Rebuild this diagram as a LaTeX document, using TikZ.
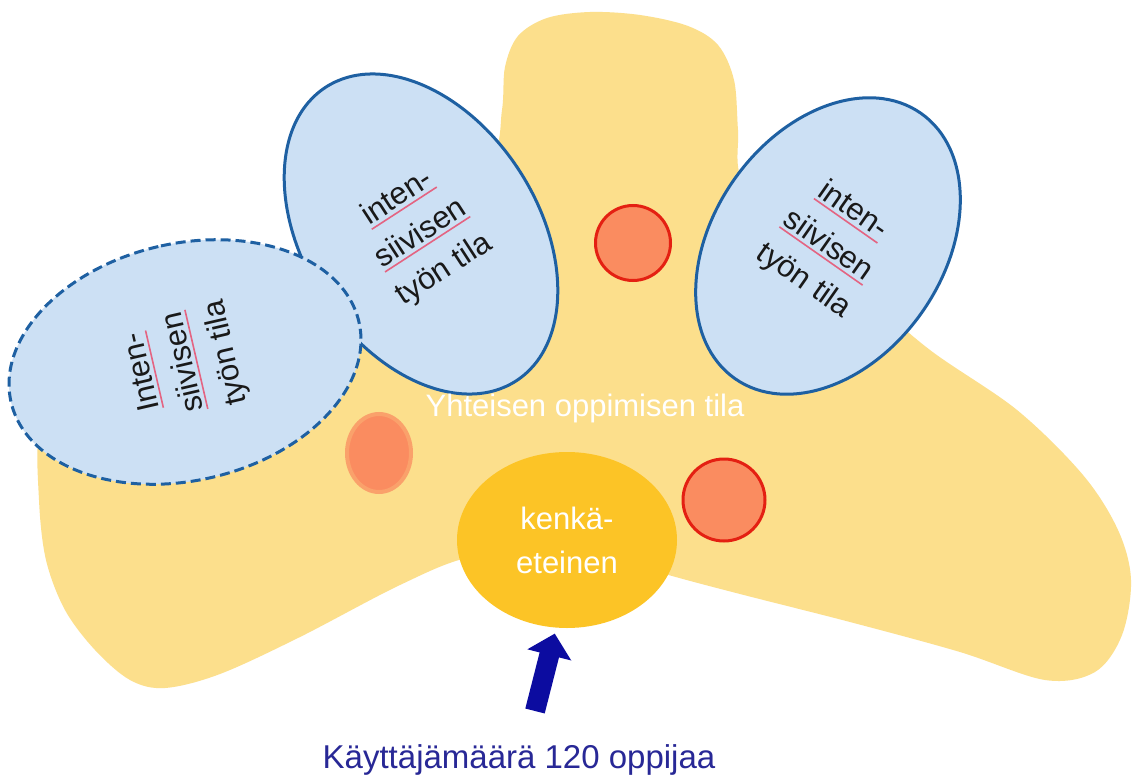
\documentclass[tikz,border=0pt]{standalone}
\usepackage{fontspec}
\setmainfont{Liberation Sans}
\usetikzlibrary{shapes.geometric,arrows.meta}

\definecolor{tilayellow}{RGB}{252,223,140}
\definecolor{kenkagold}{RGB}{252,196,38}
\definecolor{tilablue}{RGB}{204,224,244}
\definecolor{tilaedge}{RGB}{30,96,162}
\definecolor{hotcoral}{RGB}{250,140,96}
\definecolor{hotred}{RGB}{228,32,18}
\definecolor{userblue}{RGB}{12,12,160}
\definecolor{labelblue}{RGB}{40,40,150}
\definecolor{spellpink}{RGB}{228,100,130}

\newsavebox{\spellbox}
\newcommand{\spellmark}[1]{\sbox{\spellbox}{#1}%
    \rlap{\color{spellpink}\rule[-5pt]{\wd\spellbox}{1.6pt}}\usebox{\spellbox}}

\begin{document}
\begin{tikzpicture}[x=1pt, y=-1pt,
    tila/.style={ellipse, draw=tilaedge, line width=3pt, fill=tilablue, inner sep=0pt,
                 align=center, text=black!90, font=\fontsize{31}{43}\selectfont},
    hotspot/.style={circle, draw=hotred, line width=3pt, fill=hotcoral, inner sep=0pt},
    roomtext/.style={font=\fontsize{31}{44}\selectfont, align=center, text=white}]
    \useasboundingbox[fill=white] (0,0) rectangle (1133,776);
    \fill[tilayellow] plot[smooth cycle, tension=0.55] coordinates {
        (40,430) (39,500) (46,560) (65,610) (95,650) (130,680) (165,688) (220,674)
        (300,637) (400,585) (470,557) (567,545) (665,574) (740,594) (850,622)
        (960,652) (1045,680) (1095,672) (1122,635) (1131,580) (1118,530) (1083,475)
        (1017,410) (930,350) (860,290) (790,230) (742,180) (738,130) (734,80)
        (718,45) (688,26) (640,15) (590,12) (547,18) (518,36) (505,67) (502,110)
        (490,160) (420,220) (320,290) (180,360) (70,400)};
    \node[ellipse, fill=hotcoral, draw=hotcoral!75!tilayellow, line width=4pt,
          minimum width=64pt, minimum height=78pt, inner sep=0pt] (blob) at (379,453) {};
    \node[tila, rotate=33, minimum width=234pt, minimum height=350pt] (midtila) at (421,234)
        {\spellmark{inten-}\\\spellmark{siivisen}\\työn tila};
    \node[tila, dash pattern=on 10pt off 5pt, rotate=103, minimum width=237pt,
          minimum height=357pt] (lefttila) at (185,362)
        {\spellmark{Inten-}\\\spellmark{siivisen}\\työn tila};
    \node[tila, rotate=-35, minimum width=230pt, minimum height=324pt] (righttila) at (828,246)
        {\spellmark{inten-}\\\spellmark{siivisen}\\työn tila};
    \foreach \n/\x/\y/\d in {hotA/633/243/75pt, hotB/724/500/82pt}
        \node[hotspot, minimum size=\d] (\n) at (\x,\y) {};
    \node[ellipse, fill=kenkagold, minimum width=220pt, minimum height=176pt, inner sep=0pt,
          roomtext] (kenka) at (567,540) {kenkä-\\eteinen};
    \node[roomtext] (yhteinen) at (585,408) {Yhteisen oppimisen tila};
    \node[anchor=base, text=labelblue, font=\fontsize{33}{40}\selectfont] (users) at (519,768)
        {Käyttäjämäärä 120 oppijaa};
    \coordinate (arrowtail) at (535,711);
    \draw[-{Triangle[length=22pt, width=44pt]}, line width=20pt, userblue, shorten >=6pt]
        (arrowtail) -- (kenka.-97);
\end{tikzpicture}
\end{document}
